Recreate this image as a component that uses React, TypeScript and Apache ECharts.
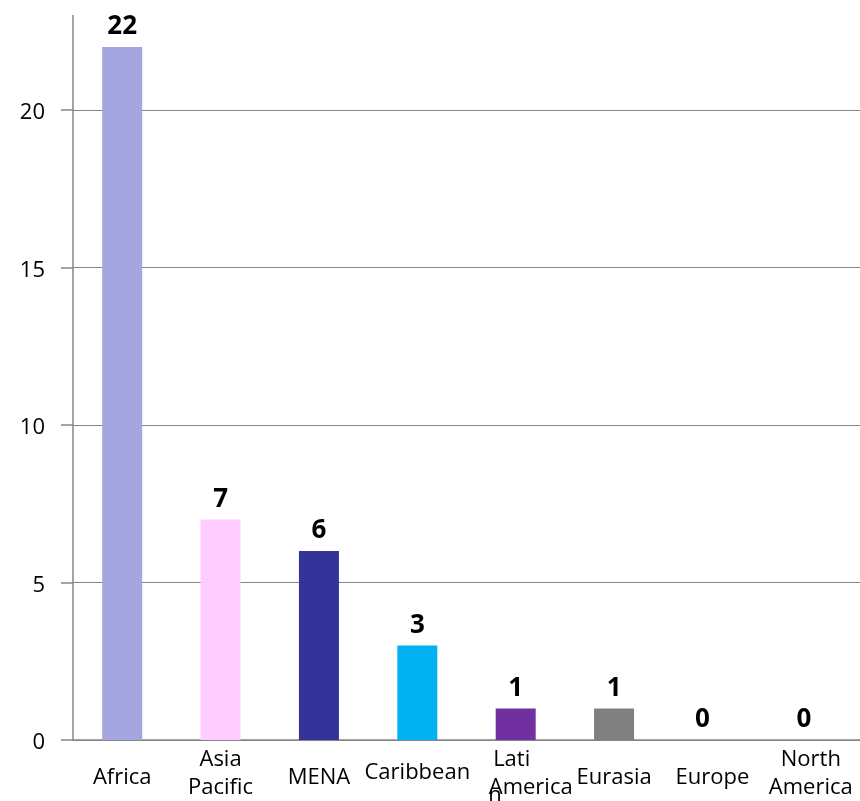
import React, { useEffect, useRef } from "react";
import * as echarts from "echarts";

const categories = ["Africa", "Asia Pacific", "MENA", "Caribbean", "Latin America", "Eurasia", "Europe", "North America"];
const values = [22, 7, 6, 3, 1, 1, 0, 0];
const barColors = ["#A5A5DF", "#FFCCFF", "#333399", "#00B0F0", "#7030A0", "#808080", "#4F81BD", "#4F81BD"];
const yTicks = [0, 5, 10, 15, 20];

const FONT = "'Open Sans', sans-serif";
const GRAY = "#868686";

export default function App() {
  const ref = useRef<HTMLDivElement>(null);
  useEffect(() => {
    if (!ref.current) return;
    const chart = echarts.init(ref.current, null, { renderer: "svg" });
    const labelMap: Record<string, string> = {
      "Asia Pacific": "Asia\nPacific",
      "North America": "North\nAmerica",
      "Latin America": "{l|Lati}\n{r|America}",
      Caribbean: "{c|Caribbean}",
    };
    const txt = { fontFamily: FONT, fontSize: 22, lineHeight: 28, color: "#000" };
    chart.setOption({
      animation: false,
      grid: { left: 73, top: 15.5, bottom: 61, width: 792 },
      xAxis: {
        type: "category",
        data: categories,
        axisLine: { show: true, lineStyle: { color: GRAY, width: 1.5 } },
        axisTick: { show: false },
        axisLabel: {
          interval: 0,
          ...txt,
          verticalAlign: "middle",
          margin: 31,
          formatter: (v: string) => labelMap[v] ?? `{s|${v}}`,
          rich: {
            l: { ...txt, padding: [0, 8, 0, 0] },
            r: { ...txt, padding: [0, 0, 0, 30] },
            s: { ...txt, padding: [7, 0, 0, 0] },
            c: { ...txt, padding: [0, 0, 2, 0] },
          },
        },
      },
      yAxis: {
        type: "value",
        min: 0,
        max: 23,
        interval: 5,
        axisLine: { show: true, lineStyle: { color: GRAY, width: 1.5 } },
        axisTick: { show: true, length: 12, customValues: yTicks, lineStyle: { color: GRAY, width: 1.5 } },
        splitLine: { show: true, lineStyle: { color: GRAY, width: 1.2 } },
        axisLabel: {
          color: "#000",
          fontFamily: FONT,
          fontSize: 22,
          margin: 28,
          customValues: yTicks,
          formatter: (v: number) => (yTicks.includes(v) ? String(v) : ""),
        },
      },
      series: [
        {
          type: "bar",
          barWidth: 40,
          data: values.map((v, i) => ({
            value: v,
            itemStyle: { color: barColors[i] },
            label: v === 0 ? { offset: [i === 6 ? -10 : -7, 0] } : undefined,
          })),
          label: {
            show: true,
            position: "top",
            distance: 10,
            color: "#000",
            fontFamily: FONT,
            fontWeight: "bold",
            fontSize: 26,
          },
        },
      ],
      graphic: [
        {
          type: "text",
          x: 495,
          y: 793,
          style: {
            text: "n",
            fontFamily: FONT,
            fontSize: 22,
            fill: "#000",
            textAlign: "center",
            textVerticalAlign: "middle",
          },
        },
      ],
    });
    return () => chart.dispose();
  }, []);
  return <div ref={ref} style={{ position: "fixed", left: 0, top: 0, width: 860, height: 801 }} />;
}
